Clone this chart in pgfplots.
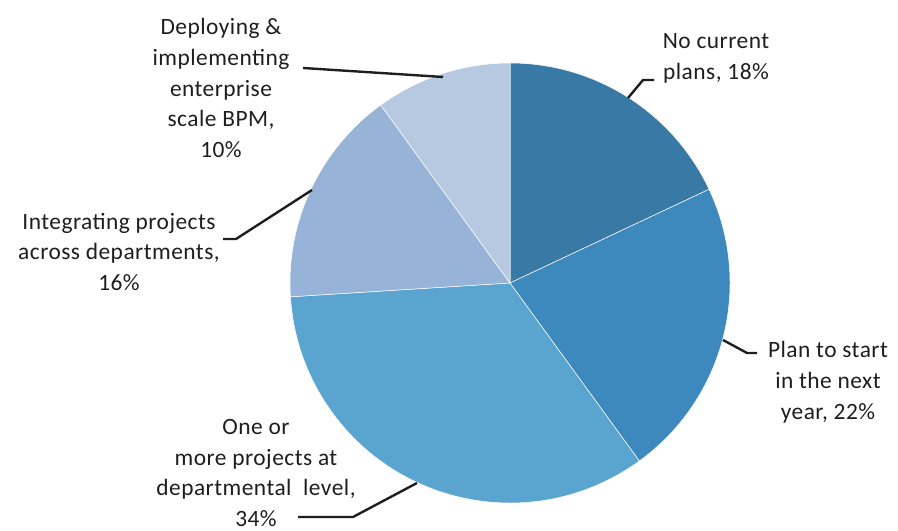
\documentclass[border=0pt]{standalone}
\usepackage{pgfplots}
\usepackage{pgfplotstable}
\pgfplotsset{compat=1.18}
\usepackage{fontspec}
\setmainfont{Carlito}
\newfontfamily\lblfont[LetterSpace=2]{Carlito}
\definecolor{c0}{HTML}{3879A5}
\definecolor{c1}{HTML}{3D88BC}
\definecolor{c2}{HTML}{5AA5CF}
\definecolor{c3}{HTML}{97B4D8}
\definecolor{c4}{HTML}{B7C9E1}
\definecolor{txt}{HTML}{1E1E1E}
\pgfplotstableread{
label value
NoPlans 18
PlanNext 22
Departmental 34
Integrating 16
Enterprise 10
}\piedata
\begin{document}
\begin{tikzpicture}
\begin{axis}[width=898bp, height=531bp, scale only axis,
  xmin=0, xmax=898, ymin=0, ymax=531, hide axis, clip=false]
\pgfplotsextra{
  \xdef\cum{0}
  \foreach \i in {0,...,4}{
    \pgfplotstablegetelem{\i}{value}\of\piedata
    \edef\v{\pgfplotsretval}
    \pgfmathsetmacro{\sa}{90-3.6*\cum}
    \pgfmathsetmacro{\ea}{90-3.6*(\cum+\v)}
    \fill[fill=c\i, draw=white, line width=0.5pt] (axis cs:510,248) -- ++(\sa:220bp) arc[start angle=\sa, end angle=\ea, radius=220bp] -- cycle;
    \pgfmathsetmacro{\newcum}{\cum+\v}
    \xdef\cum{\newcum}
  }
}
\addplot[txt, line width=2.4pt, mark=none] coordinates {(628,433) (643,451) (654,451)};
\addplot[txt, line width=2.4pt, mark=none] coordinates {(723,191) (747,178) (757,178)};
\addplot[txt, line width=2.4pt, mark=none] coordinates {(417,48) (353,14) (298,14)};
\addplot[txt, line width=2.4pt, mark=none] coordinates {(312,341) (236,292) (223,292)};
\addplot[txt, line width=2.4pt, mark=none] coordinates {(443,454) (303,463)};
\begin{scope}[every node/.style={align=center, text=txt, font=\lblfont\fontsize{23.5}{31}\selectfont, inner sep=0pt}]
\node at (axis cs:716,473) {No current\\plans, 18\%};
\node at (axis cs:828,149) {Plan to start\\in the next\\year, 22\%};
\node at (axis cs:256,58) {One or\\more projects at\\departmental~ level,\\34\%};
\node at (axis cs:119,279) {Integrating projects\\across departments,\\16\%};
\node at (axis cs:221,443) {Deploying \&\\implementing\\enterprise\\scale BPM,\\10\%};
\end{scope}
\end{axis}
\pgfresetboundingbox
\useasboundingbox (current axis.south west) rectangle (current axis.north east);
\end{tikzpicture}
\end{document}
